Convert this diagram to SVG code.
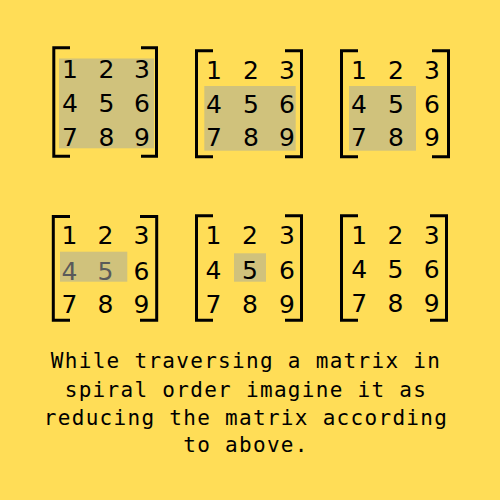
<svg xmlns="http://www.w3.org/2000/svg" width="500" height="500" viewBox="0 0 500 500">
<style>
.bg{fill:#FFDD57}
.hl{fill:#D0C27C}
.br{fill:none;stroke:#000;stroke-width:3;stroke-linejoin:miter;stroke-linecap:butt}
.d{font-family:"DejaVu Sans",sans-serif;font-size:25px;fill:#000;text-anchor:middle}
.g{fill:#5a5a5a}
.cap{font-family:"DejaVu Sans Mono","Liberation Mono",monospace;font-size:21px;fill:#000;text-anchor:middle;letter-spacing:1.3px}
</style>
<rect class="bg" x="0" y="0" width="500" height="500"/>

<g id="m1">
<rect class="hl" x="59" y="58.5" width="95" height="89.8"/>
<path class="br" d="M70 47.8H53.8V156.2H70"/>
<path class="br" d="M141 47.8H156.5V156.2H141"/>
<text class="d" x="70" y="78.3">1</text><text class="d" x="106.5" y="78.3">2</text><text class="d" x="142" y="78.3">3</text>
<text class="d" x="70" y="111.7">4</text><text class="d" x="106.5" y="111.7">5</text><text class="d" x="142" y="111.7">6</text>
<text class="d" x="70" y="146">7</text><text class="d" x="106.5" y="146">8</text><text class="d" x="142" y="146">9</text>
</g>

<g id="m2">
<rect class="hl" x="204.3" y="86" width="91.4" height="64.7"/>
<path class="br" d="M213 50.8H196.5V156.8H213"/>
<path class="br" d="M285 50.8H301.5V156.8H285"/>
<text class="d" x="214" y="79">1</text><text class="d" x="251" y="79">2</text><text class="d" x="287" y="79">3</text>
<text class="d" x="214" y="112.5">4</text><text class="d" x="251" y="112.5">5</text><text class="d" x="287" y="112.5">6</text>
<text class="d" x="214" y="146">7</text><text class="d" x="251" y="146">8</text><text class="d" x="287" y="146">9</text>
</g>

<g id="m3">
<rect class="hl" x="349" y="86" width="67" height="64.7"/>
<path class="br" d="M358 50.8H341.5V156.8H358"/>
<path class="br" d="M432 50.8H448.5V156.8H432"/>
<text class="d" x="359" y="79">1</text><text class="d" x="396" y="79">2</text><text class="d" x="432" y="79">3</text>
<text class="d" x="359" y="112.5">4</text><text class="d" x="396" y="112.5">5</text><text class="d" x="432" y="112.5">6</text>
<text class="d" x="359" y="146">7</text><text class="d" x="396" y="146">8</text><text class="d" x="432" y="146">9</text>
</g>

<g id="m4">
<rect class="hl" x="60" y="251.7" width="67.3" height="30"/>
<path class="br" d="M70 216.5H53.3V320.2H70"/>
<path class="br" d="M140 216.5H156.7V320.2H140"/>
<text class="d" x="69.5" y="244.3">1</text><text class="d" x="105.5" y="244.3">2</text><text class="d" x="141.5" y="244.3">3</text>
<text class="d g" x="69.5" y="279.5">4</text><text class="d g" x="105.5" y="279.5">5</text><text class="d" x="141.5" y="279.5">6</text>
<text class="d" x="69.5" y="313">7</text><text class="d" x="105.5" y="313">8</text><text class="d" x="141.5" y="313">9</text>
</g>

<g id="m5">
<rect class="hl" x="234" y="253.3" width="32" height="28.4"/>
<path class="br" d="M213 215.8H196.5V320.2H213"/>
<path class="br" d="M285 215.8H301.5V320.2H285"/>
<text class="d" x="213.5" y="244.3">1</text><text class="d" x="250" y="244.3">2</text><text class="d" x="287" y="244.3">3</text>
<text class="d" x="213.5" y="279">4</text><text class="d" x="250" y="279">5</text><text class="d" x="287" y="279">6</text>
<text class="d" x="213.5" y="312.7">7</text><text class="d" x="250" y="312.7">8</text><text class="d" x="287" y="312.7">9</text>
</g>

<g id="m6">
<path class="br" d="M358 215.8H341.5V320.2H358"/>
<path class="br" d="M430 215.8H446.5V320.2H430"/>
<text class="d" x="359.3" y="244.3">1</text><text class="d" x="395.5" y="244.3">2</text><text class="d" x="431.7" y="244.3">3</text>
<text class="d" x="359.3" y="278">4</text><text class="d" x="395.5" y="278">5</text><text class="d" x="431.7" y="278">6</text>
<text class="d" x="359.3" y="312">7</text><text class="d" x="395.5" y="312">8</text><text class="d" x="431.7" y="312">9</text>
</g>

<g id="caption">
<text class="cap" x="246" y="368.3">While traversing a matrix in</text>
<text class="cap" x="246" y="396.7">spiral order imagine it as</text>
<text class="cap" x="246" y="425">reducing the matrix according</text>
<text class="cap" x="246" y="452.3">to above.</text>
</g>
</svg>
